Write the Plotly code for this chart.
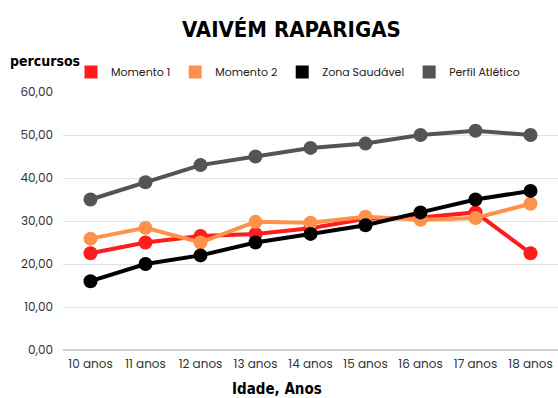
import plotly.graph_objects as go

idades = ["10 anos", "11 anos", "12 anos", "13 anos", "14 anos",
          "15 anos", "16 anos", "17 anos", "18 anos"]

momento_1 = [22.5, 25.0, 26.5, 27.0, 28.3, 30.5, 30.8, 32.0, 22.5]
momento_2 = [25.9, 28.4, 25.0, 29.8, 29.6, 31.0, 30.3, 30.7, 34.0]
zona_saudavel = [16.0, 20.0, 22.0, 25.0, 27.0, 29.0, 32.0, 35.0, 37.0]
perfil_atletico = [35.0, 39.0, 43.0, 45.0, 47.0, 48.0, 50.0, 51.0, 50.0]

series = [
    ("Momento 1", momento_1, "#ff1c1c"),
    ("Momento 2", momento_2, "#ff914d"),
    ("Zona Saudável", zona_saudavel, "#000000"),
    ("Perfil Atlético", perfil_atletico, "#545454"),
]

HEAVY = "DejaVu Sans Condensed, Liberation Sans Narrow, sans-serif"
BODY = "Poppins, Open Sans, Lato, sans-serif"

# plot area geometry (pixels)
L, R, T, B, W, H = 63, 0, 92, 48, 558, 398
PW, PH = W - L - R, H - T - B


def px(x):
    return (x - L) / PW


def py(y):
    return (H - B - y) / PH


fig = go.Figure()

for nome, valores, cor in series:
    fig.add_trace(go.Scatter(
        x=idades, y=valores, mode="lines+markers", name=nome,
        line=dict(color=cor, width=4),
        marker=dict(color=cor, size=14),
        showlegend=False,
    ))

# legend entries as coloured squares
for nome, valores, cor in series:
    fig.add_trace(go.Scatter(
        x=[None], y=[None], mode="markers", name=nome,
        marker=dict(color=cor, size=13, symbol="square"),
        showlegend=True,
    ))

fig.update_layout(
    width=W, height=H,
    margin=dict(l=L, r=R, t=T, b=B),
    paper_bgcolor="white", plot_bgcolor="white",
    separators=",.",
    font=dict(family=BODY, size=12, color="#333333"),
    showlegend=True,
    legend=dict(
        orientation="h", x=px(71), xref="paper", xanchor="left",
        y=py(72), yanchor="middle",
        font=dict(family=BODY, size=11, color="#222222"),
        itemwidth=30, tracegroupgap=0,
        bgcolor="rgba(0,0,0,0)",
    ),
    xaxis=dict(
        type="category", range=[-0.5, 8.5],
        showgrid=False, showline=False, zeroline=False,
        ticks="", ticklabelstandoff=5,
        tickfont=dict(family=BODY, size=12, color="#333333"),
    ),
    yaxis=dict(
        range=[0, 60], dtick=10, tickformat=".2f",
        showgrid=True, gridcolor="#e3e3e3", gridwidth=1,
        zeroline=True, zerolinecolor="#d0d0d0", zerolinewidth=1.5,
        showline=False, ticks="", ticklabelstandoff=9,
        tickfont=dict(family=BODY, size=12, color="#333333"),
    ),
    annotations=[
        dict(text="<b>VAIVÉM RAPARIGAS</b>", xref="paper", yref="paper",
             x=px(291), y=py(29),
             xanchor="center", yanchor="middle", showarrow=False,
             font=dict(family=HEAVY, size=22, color="#000000")),
        dict(text="<b>percursos</b>", xref="paper", yref="paper",
             x=px(45), y=py(61),
             xanchor="center", yanchor="middle", showarrow=False,
             font=dict(family=HEAVY, size=14, color="#000000")),
        dict(text="<b>Idade, Anos</b>", xref="paper", yref="paper",
             x=px(277), y=py(389),
             xanchor="center", yanchor="middle", showarrow=False,
             font=dict(family=HEAVY, size=15, color="#000000")),
    ],
)

fig.write_html("out.html")
